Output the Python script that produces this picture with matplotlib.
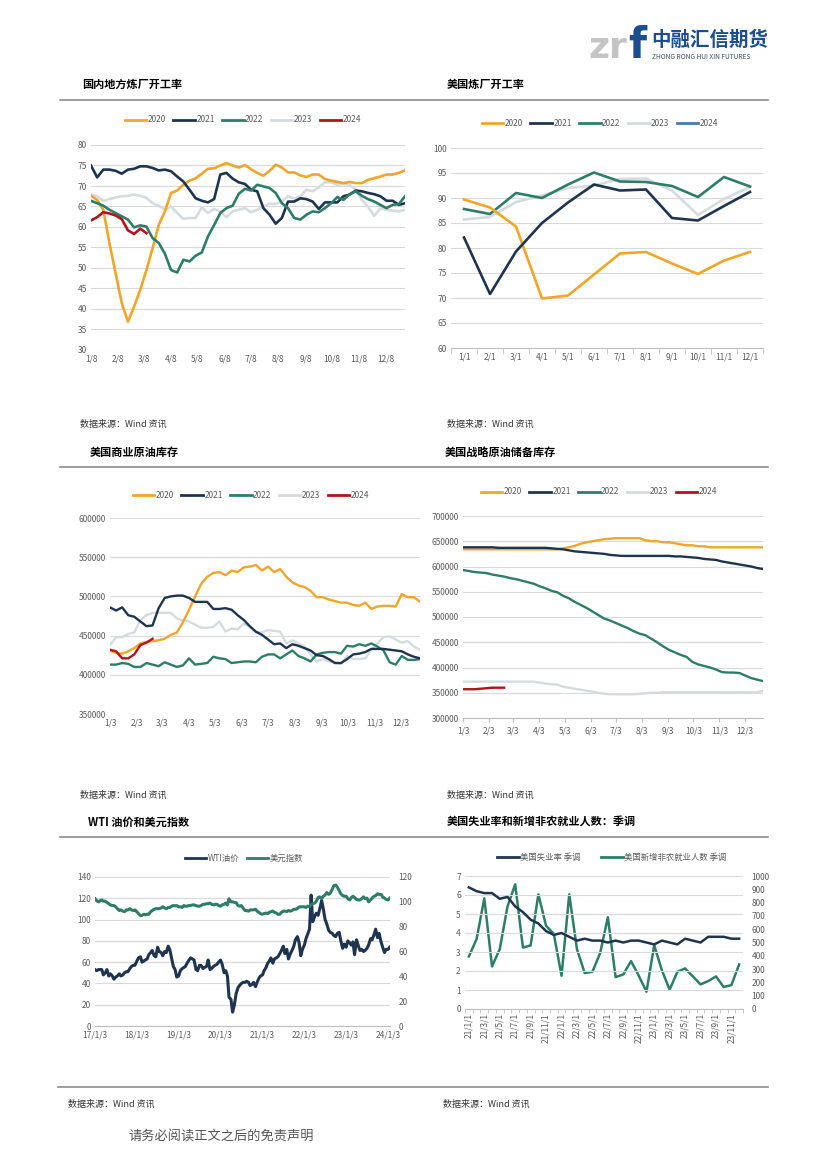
import matplotlib
matplotlib.use('Agg')
import matplotlib.pyplot as plt
from matplotlib.lines import Line2D
import pandas as pd

plt.rcParams['font.family'] = ['Noto Sans CJK SC', 'DejaVu Sans']

W, H = 826, 1169

C_ORANGE = '#F2A52B'
C_NAVY = '#1E344F'
C_TEAL = '#2E7D69'
C_GRAY = '#D6DBE0'
C_RED = '#B5121B'
C_BLUE = '#4F73B8'
GRID = '#D9D9D9'
TICK = '#595959'

YEARS = ['2020', '2021', '2022', '2023', '2024']

# ---- 国内地方炼厂开工率 (weekly, %)
local_ticks = ['1/8', '2/8', '3/8', '4/8', '5/8', '6/8', '7/8', '8/8', '9/8', '10/8', '11/8', '12/8']
local_2020 = [67.6, 66.6, 64.2, 56.0, 48.7, 41.4, 36.9, 40.6, 44.7, 49.5,
              54.8, 60.5, 63.8, 68.3, 68.9, 70.3, 71.3, 71.9, 73.0, 74.2,
              74.3, 75.0, 75.6, 75.0, 74.5, 75.1, 74.1, 73.2, 72.5, 73.7,
              75.2, 74.5, 73.3, 73.3, 72.6, 72.2, 72.8, 72.8, 71.7, 71.3,
              71.0, 70.7, 71.0, 70.7, 70.7, 71.5, 71.9, 72.3, 72.8, 72.8,
              73.2, 73.8]
local_2021 = [75.0, 72.1, 74.0, 74.0, 73.7, 73.0, 74.0, 74.2, 74.8, 74.8,
              74.4, 73.8, 74.0, 73.6, 72.3, 71.1, 69.1, 67.0, 66.4, 66.0,
              66.8, 72.8, 73.2, 71.8, 70.9, 70.5, 69.1, 68.7, 64.6, 63.0,
              60.8, 62.2, 66.2, 66.2, 67.0, 66.8, 66.2, 64.4, 66.0, 66.0,
              66.0, 67.5, 67.9, 68.9, 68.7, 68.3, 68.0, 67.5, 66.4, 66.4,
              65.4, 65.8]
local_2022 = [66.4, 65.8, 65.2, 64.2, 63.4, 62.6, 61.8, 59.9, 60.4, 60.1,
              57.3, 56.1, 53.5, 49.5, 48.9, 52.0, 51.6, 53.0, 53.8, 57.7,
              60.5, 63.4, 64.6, 65.2, 68.1, 69.3, 68.9, 70.3, 69.9, 69.5,
              68.3, 65.8, 64.6, 62.2, 61.8, 63.0, 63.8, 63.6, 64.6, 65.8,
              67.3, 66.6, 68.0, 68.7, 67.6, 66.8, 66.2, 65.4, 64.6, 65.4,
              65.6, 67.5]
local_2023 = [67.9, 67.5, 66.4, 66.8, 67.2, 67.5, 67.6, 67.9, 67.6, 67.1,
              65.8, 65.2, 64.2, 65.0, 63.4, 62.0, 62.2, 62.2, 64.8, 63.4,
              64.4, 63.8, 62.4, 63.8, 64.2, 64.6, 63.6, 64.2, 65.0, 65.7,
              65.6, 66.2, 67.5, 66.9, 67.5, 69.1, 68.7, 69.7, 70.9, 70.9,
              70.3, 70.5, 70.3, 69.1, 66.6, 64.9, 62.7, 64.6, 64.2, 64.0,
              63.8, 64.2]
local_2024 = [61.6, 62.4, 63.6, 63.3, 62.8, 61.9, 59.2, 58.3, 59.6, 58.5]

# ---- 美国炼厂开工率 (monthly, %)
us_months = ['1/1', '2/1', '3/1', '4/1', '5/1', '6/1', '7/1', '8/1', '9/1', '10/1', '11/1', '12/1']
us_2020 = [89.7, 88.1, 84.3, 69.9, 70.5, 74.7, 78.9, 79.2, 76.9, 74.8, 77.5, 79.2]
us_2021 = [82.1, 70.8, 79.3, 85.0, 89.1, 92.7, 91.5, 91.7, 86.0, 85.5, 88.4, 91.2]
us_2022 = [87.8, 86.8, 91.0, 90.0, 92.7, 95.1, 93.3, 93.2, 92.4, 90.2, 94.2, 92.3]
us_2023 = [85.7, 86.2, 89.2, 90.5, 92.0, 92.5, 93.8, 93.9, 91.5, 86.6, 89.8, 92.2]
us_2024 = []

# ---- 美国商业原油库存 (weekly, 千桶)
inv_ticks = ['1/3', '2/3', '3/3', '4/3', '5/3', '6/3', '7/3', '8/3', '9/3', '10/3', '11/3', '12/3']
com_2020 = [431000, 428000, 427000, 430000, 434000, 440000, 442000, 443000, 444000, 446000,
            451000, 454000, 467000, 483000, 500000, 516000, 525000, 530000, 531000, 527000,
            533000, 531000, 537000, 538000, 540000, 533000, 538000, 531000, 535000, 525000,
            518000, 514000, 512000, 507000, 499000, 499000, 496000, 494000, 492000, 492000,
            489000, 488000, 492000, 484000, 487000, 488000, 488000, 487000, 503000, 499000,
            499000, 493000]
com_2021 = [486000, 482000, 486000, 476000, 474000, 468000, 462000, 463000, 485000, 498000,
            500000, 501000, 501000, 498000, 493000, 493000, 493000, 484000, 484000, 485000,
            483000, 476000, 470000, 462000, 455000, 451000, 445000, 439000, 440000, 434000,
            439000, 437000, 434000, 431000, 425000, 424000, 420000, 415000, 415000, 420000,
            426000, 427000, 429000, 433000, 433000, 433000, 432000, 431000, 430000, 426000,
            423000, 421000]
com_2022 = [413000, 413000, 415000, 414000, 410000, 410000, 415000, 413000, 411000, 416000,
            413000, 410000, 412000, 421000, 413000, 414000, 415000, 423000, 421000, 420000,
            415000, 416000, 417000, 417000, 416000, 423000, 426000, 426000, 421000, 426000,
            431000, 424000, 421000, 417000, 426000, 428000, 429000, 429000, 427000, 437000,
            436000, 439000, 437000, 440000, 436000, 431000, 416000, 413000, 424000, 419000,
            419000, 420000]
com_2023 = [438000, 448000, 448000, 452000, 454000, 470000, 476000, 479000, 479000, 479000,
            479000, 472000, 469000, 468000, 464000, 460000, 460000, 461000, 468000, 455000,
            459000, 458000, 465000, 461000, 454000, 454000, 457000, 456000, 455000, 440000,
            444000, 440000, 436000, 426000, 417000, 420000, 417000, 416000, 414000, 424000,
            420000, 420000, 421000, 432000, 440000, 448000, 449000, 445000, 441000, 443000,
            436000, 432000]
com_2024 = [432000, 430000, 421000, 421000, 426000, 438000, 441000, 446000]

# ---- 美国战略原油储备库存 (weekly, 千桶)
spr_2020 = [634000] * 17 + [636000, 638000, 641000, 645000, 648000, 650000, 652000, 654000, 655000,
                            656000, 656000, 656000, 656000, 656000,
                            652000, 650000, 650000, 648000, 648000, 646000, 644000, 642000, 642000,
                            640000, 640000, 638000] + [638000] * 9
spr_2021 = [638000, 638000, 638000, 638000, 638000, 638000, 637000, 637000, 637000, 637000,
            637000, 637000, 637000, 637000, 637000, 636000, 635000, 634000, 632000, 630000,
            629000, 628000, 627000, 626000, 625000, 623000, 622000, 621000, 621000, 621000,
            621000, 621000, 621000, 621000, 621000, 621000, 620000, 620000, 619000, 618000,
            617000, 615000, 614000, 613000, 610000, 608000, 606000, 604000, 602000, 600000,
            597000, 595000]
spr_2022 = [593000, 591000, 589000, 588000, 587000, 584000, 582000, 580000, 577000, 575000,
            572000, 569000, 566000, 561000, 557000, 552000, 549000, 542000, 537000, 530000,
            524000, 518000, 511000, 504000, 497000, 493000, 488000, 483000, 478000, 472000,
            467000, 464000, 457000, 450000, 442000, 435000, 430000, 425000, 421000, 411000,
            406000, 403000, 400000, 396000, 391000, 390000, 390000, 389000, 384000, 379000,
            376000, 373000]
spr_2023 = [372000] * 13 + [370000, 368000, 367000, 366000, 362000, 360000, 358000, 356000, 354000,
                            352000, 350000, 348000, 347000, 347000, 347000, 347000, 347000,
                            348000, 349000, 350000, 350000, 351000, 351000] + [351000] * 15 + [354000]
spr_2024 = [357000, 357000, 357000, 358000, 359000, 360000, 360000, 360000]

# ---- WTI 油价和美元指数 (semi-monthly readings)
wti = [53, 52, 53, 53, 53, 48, 50, 53, 47, 49, 47, 44, 46, 47, 49, 47, 48, 50, 51, 51, 54, 56, 57, 57,
       61, 64, 65, 60, 61, 62, 63, 67, 69, 71, 66, 65, 74, 70, 69, 66, 70, 69, 75, 72, 63, 56, 53, 46,
       47, 52, 54, 55, 56, 59, 62, 64, 63, 62, 53, 52, 57, 57, 54, 55, 56, 62, 53, 54, 56, 57, 58, 60,
       62, 58, 50, 52, 47, 27, 25, 13, 20, 30, 36, 38, 40, 41, 41, 42, 41, 38, 39, 41, 37, 41, 45, 47,
       48, 52, 55, 59, 61, 64, 59, 63, 64, 65, 68, 71, 75, 68, 72, 63, 68, 71, 75, 81, 84, 79, 66, 72,
       76, 82, 87, 91, 123, 98, 103, 106, 104, 110, 118, 110, 100, 96, 90, 88, 87, 85, 84, 87, 88, 80, 73, 77,
       74, 80, 78, 76, 79, 67, 81, 76, 71, 72, 70, 71, 73, 76, 82, 81, 86, 91, 83, 87, 79, 74, 69, 72,
       72, 74]
dxy = [102.5, 101, 100, 101, 101.5, 100.5, 100.5, 99.5, 98.5, 97.5, 97, 97, 96, 94.5, 93, 93.5, 92.5, 92, 93.5, 93.5, 94.5, 93.5, 93, 93.5,
       92, 90.5, 89, 89, 90, 89.5, 90, 90, 92, 93, 94, 94.5, 94.5, 94.5, 95, 96, 95, 94.5, 95.5, 95.5, 96.5, 97, 96.8, 97,
       96, 96, 95.5, 97, 96.5, 96.5, 97, 97, 97.5, 97.5, 97, 96.5, 96.5, 97, 98, 98, 98.5, 98.5, 99, 98, 97.5, 98, 98, 97,
       96.5, 97.5, 98, 99, 97.5, 102.5, 100, 100, 99.5, 99.5, 97, 96.5, 97, 95, 93, 93, 92.5, 93.5, 93.5, 93.5, 94, 92.5, 91.5, 90.5,
       90, 90.5, 91, 90.5, 91.5, 92, 92.5, 91.5, 91, 90, 90, 91.5, 92.5, 92.5, 92.2, 93, 92.5, 93, 94, 94, 94.5, 95.8, 96, 96,
       96, 95.5, 96.5, 96, 97.5, 98.5, 99, 100.5, 103.5, 104, 102.5, 104.5, 105.5, 107.5, 106, 107, 110, 113, 113.5, 112, 109, 106.5, 105, 104.5,
       104.5, 102.5, 101.5, 103.5, 104.5, 103.5, 102, 101.5, 101.5, 102.5, 104, 102.5, 103, 100, 101.5, 103, 104.5, 105, 106.5, 106, 106, 104, 103, 102,
       101.5, 103]
wti_ticks = ['17/1/3', '18/1/3', '19/1/3', '20/1/3', '21/1/3', '22/1/3', '23/1/3', '24/1/3']

# ---- 美国失业率和新增非农 (monthly 2021-01 .. 2023-12)
unemp = [6.4, 6.2, 6.1, 6.1, 5.8, 5.9, 5.4, 5.1, 4.7, 4.5, 4.1, 3.9,
         4.0, 3.8, 3.6, 3.7, 3.6, 3.6, 3.5, 3.6, 3.5, 3.6, 3.6, 3.5,
         3.4, 3.6, 3.5, 3.4, 3.7, 3.6, 3.5, 3.8, 3.8, 3.8, 3.7, 3.7]
nfp = [395, 525, 832, 320, 450, 770, 937, 462, 478, 862, 625, 565,
       250, 862, 450, 270, 280, 420, 690, 240, 260, 360, 250, 130,
       480, 290, 145, 280, 305, 245, 185, 210, 245, 165, 180, 335]
job_months = ['21/1/1', '21/3/1', '21/5/1', '21/7/1', '21/9/1', '21/11/1',
              '22/1/1', '22/3/1', '22/5/1', '22/7/1', '22/9/1', '22/11/1',
              '23/1/1', '23/3/1', '23/5/1', '23/7/1', '23/9/1', '23/11/1']


def fx(px):
    return px / W


def fy(py):
    return 1 - py / H


def add_axes(fig, left, top, right, bottom):
    return fig.add_axes([fx(left), fy(bottom), (right - left) / W, (bottom - top) / H])


def base_style(ax):
    for s in ax.spines.values():
        s.set_visible(False)
    ax.grid(axis='y', color=GRID, lw=0.8)
    ax.set_axisbelow(True)
    ax.tick_params(axis='both', length=0, labelsize=6, colors=TICK, pad=3)


def bottom_axis(ax, ticks_len=0):
    ax.spines['bottom'].set_visible(True)
    ax.spines['bottom'].set_color('#BFBFBF')
    ax.spines['bottom'].set_linewidth(0.8)


def legend(fig, colors, labels, cx, cy, **kw):
    handles = [Line2D([], [], color=c, lw=2) for c in colors]
    opts = dict(loc='center', bbox_to_anchor=(fx(cx), fy(cy)), ncol=len(labels), frameon=False,
                fontsize=6, handlelength=2.6, handletextpad=0.15, columnspacing=0.9,
                labelcolor=TICK, borderpad=0)
    opts.update(kw)
    fig.legend(handles, labels, **opts)


def section(fig, y_title, y_line, left_title, right_title, lx, rx):
    fig.text(fx(lx), fy(y_title), left_title, fontsize=8, fontweight='bold', va='center')
    fig.text(fx(rx), fy(y_title), right_title, fontsize=8, fontweight='bold', va='center')
    fig.add_artist(Line2D([fx(60), fx(768)], [fy(y_line), fy(y_line)], color='#8C8C8C', lw=1.2))


def source(fig, y, lx, rx):
    for x in (lx, rx):
        fig.text(fx(x), fy(y), '数据来源：Wind 资讯', fontsize=6.5, color='#333333', va='center')


def month_ticks(fmt_year, day):
    return pd.to_datetime([f'{fmt_year}-{m:02d}-{day:02d}' for m in range(1, 13)])


fig = plt.figure(figsize=(W / 100, H / 100), dpi=100)

# header logo
fig.text(fx(588), fy(58), 'zr', fontsize=26, fontweight='bold', color='#C4C4C4', va='baseline',
         family='DejaVu Sans')
fig.text(fx(628), fy(58), 'f', fontsize=30, fontweight='bold', color='#1B4E8E', va='baseline',
         family='DejaVu Sans')
fig.text(fx(651), fy(40), '中融汇信期货', fontsize=14, fontweight='bold', color='#1B4E8E', va='center')
fig.text(fx(652), fy(57), 'ZHONG RONG HUI XIN FUTURES', fontsize=4.8, color='#3D4F6E', va='center')

section(fig, 84, 100, '国内地方炼厂开工率', '美国炼厂开工率', 82, 447)
section(fig, 452, 467, '美国商业原油库存', '美国战略原油储备库存', 90, 445)
section(fig, 822, 837, 'WTI 油价和美元指数', '美国失业率和新增非农就业人数：季调', 88, 447)

colors5 = [C_ORANGE, C_NAVY, C_TEAL, C_GRAY, C_RED]

# ---- top left
ax = add_axes(fig, 91, 145, 405, 350)
base_style(ax)
wk = pd.date_range('2020-01-08', periods=52, freq='7D')
series = [local_2020, local_2021, local_2022, local_2023, local_2024]
for vals, c, z in zip(series, colors5, [3, 4, 5, 2, 6]):
    ax.plot(wk[:len(vals)], vals, color=c, lw=1.9, zorder=z)
ax.set_ylim(30, 80)
ax.set_yticks(range(30, 81, 5))
ax.set_xlim(wk[0], wk[-1])
ax.set_xticks(month_ticks(2020, 8))
ax.set_xticklabels(local_ticks)
legend(fig, colors5, YEARS, 243, 120)

# ---- top right
ax = add_axes(fig, 451, 148, 763, 348)
base_style(ax)
bottom_axis(ax)
us_series = [us_2020, us_2021, us_2022, us_2023, us_2024]
for vals, c, z in zip(us_series, [C_ORANGE, C_NAVY, C_TEAL, C_GRAY, C_BLUE], [4, 5, 3, 2, 6]):
    if vals:
        ax.plot(range(len(vals)), vals, color=c, lw=1.9, zorder=z)
ax.set_ylim(60, 100)
ax.set_yticks(range(60, 101, 5))
ax.set_xlim(-0.5, 11.5)
ax.set_xticks(range(12))
ax.set_xticklabels(us_months)
ax.set_xticks([k + 0.5 for k in range(-1, 12)], minor=True)
ax.tick_params(axis='x', which='minor', length=4, color='#BFBFBF')
legend(fig, [C_ORANGE, C_NAVY, C_TEAL, C_GRAY, C_BLUE], YEARS, 600, 123)

source(fig, 424, 80, 447)

# ---- middle left
ax = add_axes(fig, 110, 518, 420, 714)
base_style(ax)
wk3 = pd.date_range('2020-01-03', periods=52, freq='7D')
for vals, c, z in zip([com_2020, com_2021, com_2022, com_2023, com_2024], colors5, [4, 5, 3, 2, 6]):
    ax.plot(wk3[:len(vals)], vals, color=c, lw=1.7, zorder=z)
ax.set_ylim(350000, 600000)
ax.set_yticks(range(350000, 600001, 50000))
ax.set_xlim(wk3[0], wk3[-1])
ax.set_xticks(month_ticks(2020, 3))
ax.set_xticklabels(inv_ticks)
legend(fig, colors5, YEARS, 251, 495)

# ---- middle right
ax = add_axes(fig, 463, 516, 763, 718)
base_style(ax)
bottom_axis(ax)
for vals, c, z in zip([spr_2020, spr_2021, spr_2022, spr_2023, spr_2024], colors5, [4, 5, 3, 2, 6]):
    ax.plot(wk3[:len(vals)], vals, color=c, lw=1.7, zorder=z)
ax.set_ylim(300000, 700000)
ax.set_yticks(range(300000, 700001, 50000))
ax.set_xlim(wk3[0], wk3[-1])
ax.set_xticks(month_ticks(2020, 3))
ax.set_xticklabels(inv_ticks)
ax.tick_params(axis='x', length=3, color='#BFBFBF')
legend(fig, colors5, YEARS, 599, 492)

source(fig, 795, 80, 447)

# ---- bottom left: WTI & DXY
semi_dates = pd.to_datetime([f'{y}-{m:02d}-{d:02d}' for y in range(2017, 2024)
                             for m in range(1, 13) for d in (3, 17)] + ['2024-01-03', '2024-01-17'])
ax = add_axes(fig, 95, 877, 390, 1026)
base_style(ax)
bottom_axis(ax)
ax.plot(semi_dates, wti, color=C_NAVY, lw=2.2, zorder=3)
ax.set_ylim(0, 140)
ax.set_yticks(range(0, 141, 20))
ax.set_xlim(pd.Timestamp('2017-01-03'), pd.Timestamp('2024-01-20'))
ax.set_xticks(pd.to_datetime([f'{y}-01-03' for y in range(2017, 2025)]))
ax.set_xticklabels(wti_ticks)
ax2 = ax.twinx()
for s in ax2.spines.values():
    s.set_visible(False)
ax2.plot(semi_dates, dxy, color=C_TEAL, lw=2.2)
ax2.set_ylim(0, 120)
ax2.set_yticks(range(0, 121, 20))
ax2.tick_params(axis='y', length=0, labelsize=6, colors=TICK, pad=6)
legend(fig, [C_NAVY, C_TEAL], ['WTI油价', '美元指数'], 244, 858)

# ---- bottom right: unemployment & NFP
ax = add_axes(fig, 465, 876, 743, 1009)
base_style(ax)
bottom_axis(ax)
idx = list(range(len(unemp)))
ax.plot(idx, unemp, color=C_NAVY, lw=1.8, zorder=4)
ax.set_ylim(0, 7)
ax.set_yticks(range(0, 8))
ax.set_xlim(-0.5, len(unemp) - 0.5)
ax.set_xticks(idx[::2])
ax.set_xticklabels(job_months, rotation=90)
ax.set_xticks([k - 0.5 for k in range(len(unemp) + 1)], minor=True)
ax.tick_params(axis='x', which='minor', length=3, color='#BFBFBF')
ax2 = ax.twinx()
for s in ax2.spines.values():
    s.set_visible(False)
ax2.plot(idx, nfp, color=C_TEAL, lw=1.8, zorder=3)
ax2.set_ylim(0, 1000)
ax2.set_yticks(range(0, 1001, 100))
ax2.tick_params(axis='y', length=0, labelsize=6, colors=TICK, pad=6)
ax.set_zorder(ax2.get_zorder() + 1)
ax.patch.set_visible(False)
legend(fig, [C_NAVY, C_TEAL], ['美国失业率 季调', '美国新增非农就业人数 季调'], 612, 857,
       columnspacing=2.5)

# footer
fig.add_artist(Line2D([fx(58), fx(768)], [fy(1087), fy(1087)], color='#8C8C8C', lw=1.2))
source(fig, 1104, 68, 443)
fig.text(fx(128), fy(1137), '请务必阅读正文之后的免责声明', fontsize=9.5, color='#555555', va='center')

fig.savefig('out.png', dpi=100)
